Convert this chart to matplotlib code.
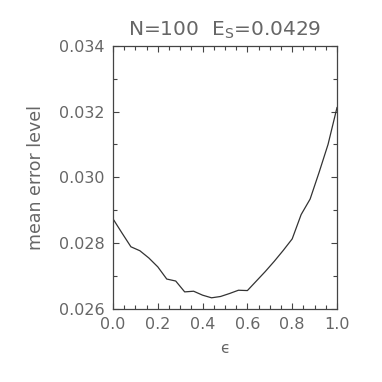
import matplotlib
matplotlib.use("Agg")
import matplotlib.pyplot as plt
from matplotlib.ticker import MultipleLocator

eps = [0.00, 0.04, 0.08, 0.12, 0.16, 0.20, 0.24, 0.28, 0.32, 0.36, 0.40, 0.44, 0.48,
       0.52, 0.56, 0.60, 0.64, 0.68, 0.72, 0.76, 0.80, 0.84, 0.88, 0.92, 0.96, 1.00]
err = [0.02874, 0.02831, 0.02789, 0.02777, 0.02755, 0.02728, 0.02691, 0.02685,
       0.02652, 0.02654, 0.02642, 0.02634, 0.02638, 0.02647, 0.02657, 0.02656,
       0.02685, 0.02714, 0.02745, 0.02778, 0.02813, 0.02887, 0.02934, 0.03015,
       0.03100, 0.03212]
x_ticks = [0.0, 0.2, 0.4, 0.6, 0.8, 1.0]
y_ticks = [0.026, 0.028, 0.030, 0.032, 0.034]

tc = '#666666'
fig = plt.figure(figsize=(3.82, 3.82), dpi=100)
ax = fig.add_axes([0.2958, 0.1911, 0.5864, 0.6893])
ax.plot(eps, err, color='#333333', lw=0.9)
ax.set_xlim(0, 1)
ax.set_ylim(0.026, 0.034)
ax.set_xticks(x_ticks)
ax.set_xticklabels([f"{v:.1f}" for v in x_ticks])
ax.set_yticks(y_ticks)
ax.set_yticklabels([f"{v:.3f}" for v in y_ticks])
ax.xaxis.set_minor_locator(MultipleLocator(0.05))
ax.yaxis.set_minor_locator(MultipleLocator(0.001))
ax.tick_params(which='both', direction='in', top=True, right=True, colors='#444444',
               labelcolor=tc, labelsize=11.5)
ax.tick_params(which='major', length=4, width=0.8, pad=6)
ax.tick_params(which='minor', length=3, width=0.8)
for s in ax.spines.values():
    s.set_color('#444444')
    s.set_linewidth(0.9)
ax.set_title(r"N=100  E$_\mathrm{S}$=0.0429", color=tc, fontsize=14.5, pad=7)
ax.set_ylabel("mean error level", color=tc, fontsize=12.5, labelpad=10)
ax.set_xlabel("ϵ", color=tc, fontsize=11, labelpad=6)
fig.savefig("out.png", dpi=100)
